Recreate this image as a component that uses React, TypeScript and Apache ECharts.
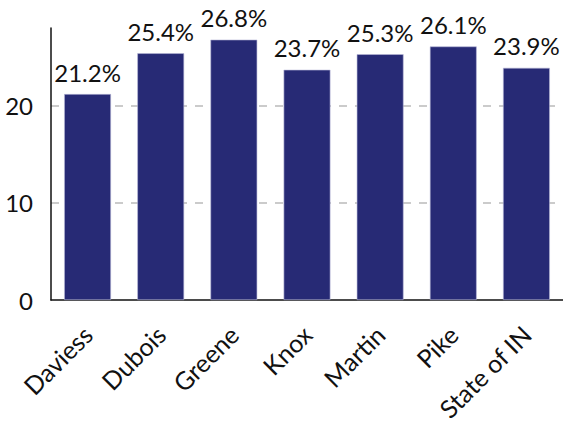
import React, { useEffect, useRef } from "react";
import * as echarts from "echarts";

const categories = ["Daviess", "Dubois", "Greene", "Knox", "Martin", "Pike", "State of IN"];
const values = [21.2, 25.4, 26.8, 23.7, 25.3, 26.1, 23.9];
const yTicks = [0, 10, 20];

export default function App() {
  const ref = useRef<HTMLDivElement>(null);
  useEffect(() => {
    if (!ref.current) return;
    const chart = echarts.init(ref.current, null, { renderer: "svg" });
    chart.setOption({
      animation: false,
      textStyle: { fontFamily: "Lato" },
      grid: { left: 51, top: 28, width: 513, bottom: 125, containLabel: false },
      xAxis: {
        type: "category",
        data: categories,
        axisLine: { show: true, lineStyle: { color: "#111", width: 1.5 } },
        axisTick: { show: false },
        axisLabel: {
          rotate: 45,
          interval: 0,
          margin: 30,
          fontSize: 25,
          color: "#111",
          fontFamily: "Lato",
        },
      },
      yAxis: {
        type: "value",
        min: yTicks[0],
        max: 28,
        interval: 10,
        axisLine: { show: true, lineStyle: { color: "#111", width: 1.5 } },
        axisTick: { show: false },
        axisLabel: {
          fontSize: 24,
          color: "#111",
          margin: 18,
          fontFamily: "Lato",
          showMaxLabel: false,
          formatter: (v: number) => (yTicks.includes(v) ? String(v) : ""),
        },
        splitLine: {
          show: true,
          showMinLine: false,
          showMaxLine: false,
          lineStyle: { color: "#bbb", type: [8, 8], width: 1.5 },
        },
      },
      series: [
        {
          type: "bar",
          data: values,
          barCategoryGap: "36%",
          itemStyle: { color: "#272a75", borderColor: "#b8b8d8", borderWidth: 0.6 },
          label: {
            show: true,
            position: "top",
            distance: 10,
            fontSize: 24,
            color: "#111",
            fontFamily: "Lato",
            formatter: (p: any) => p.value.toFixed(1) + "%",
          },
        },
      ],
    });
    return () => chart.dispose();
  }, []);
  return (
    <div
      ref={ref}
      style={{ position: "absolute", left: 0, top: 0, width: 563, height: 425 }}
    />
  );
}
